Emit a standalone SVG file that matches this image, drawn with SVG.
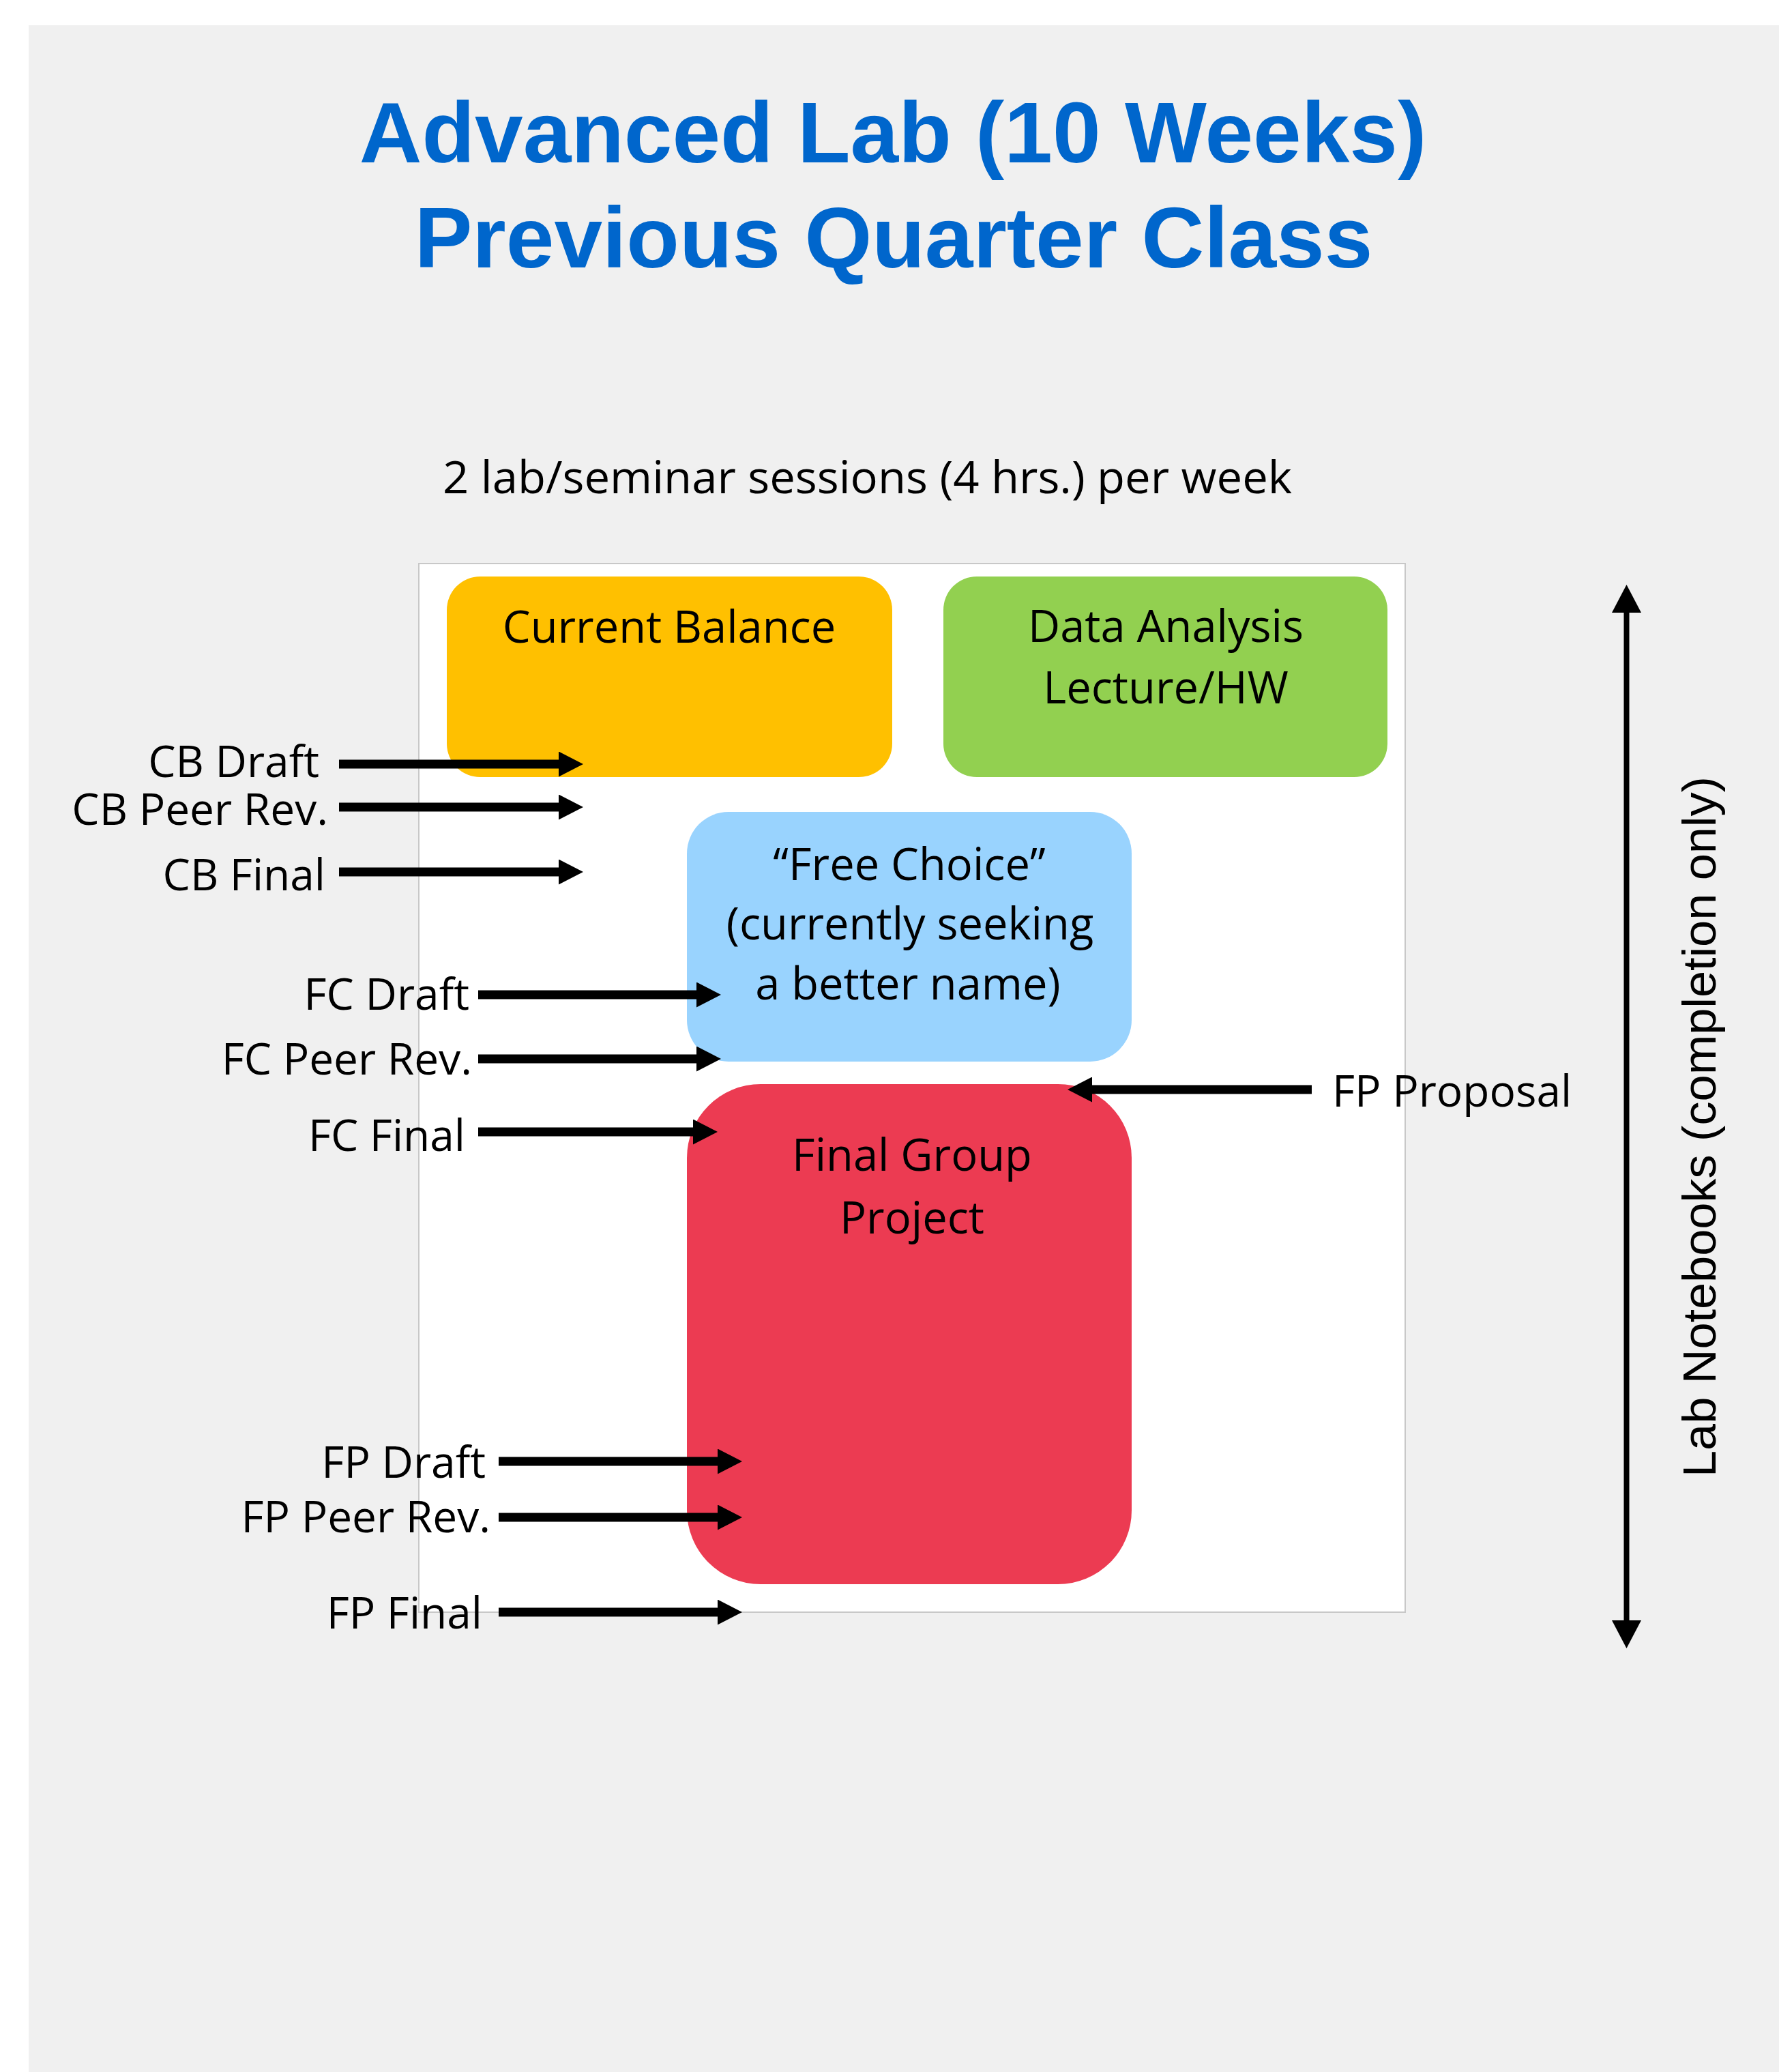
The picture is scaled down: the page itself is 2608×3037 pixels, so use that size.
<svg xmlns="http://www.w3.org/2000/svg" width="2608" height="3037" viewBox="0 0 2608 3037">
<style>
.title{font-family:"Liberation Sans",Arial,sans-serif;font-weight:bold;font-size:127px;fill:#0066CC;text-anchor:middle}
.body{font-family:"Open Sans","Noto Sans",sans-serif;font-size:65px;fill:#000}
.mid{text-anchor:middle}
.lbl{font-family:"Open Sans","Noto Sans",sans-serif;font-size:64px;fill:#000;text-anchor:end}
.conn{stroke:#000;stroke-width:13;fill:none}
</style>
<defs>
<marker id="ah" markerUnits="userSpaceOnUse" markerWidth="36" markerHeight="37" viewBox="0 0 36 37" refX="0" refY="18.5" orient="auto">
<path d="M0,0 L36,18.5 L0,37 Z" fill="#000"/>
</marker>
<marker id="vh" markerUnits="userSpaceOnUse" markerWidth="41" markerHeight="43" viewBox="0 0 41 43" refX="0" refY="21.5" orient="auto-start-reverse">
<path d="M0,0 L41,21.5 L0,43 Z" fill="#000"/>
</marker>
</defs>
<rect x="0" y="0" width="2608" height="3037" fill="#FFFFFF"/>
<rect x="42" y="37" width="2566" height="3000" fill="#F0F0F0"/>
<g id="title">
<text class="title" x="1309" y="238">Advanced Lab (10 Weeks)</text>
<text class="title" x="1310" y="392">Previous Quarter Class</text>
</g>
<text class="body" x="649" y="723" font-size="68" textLength="1245" lengthAdjust="spacingAndGlyphs">2 lab/seminar sessions (4 hrs.) per week</text>
<rect id="panel" x="614" y="826" width="1446" height="1537" fill="#FFFFFF" stroke="#C8C8C8" stroke-width="2"/>
<g id="current-balance">
<rect x="655" y="845" width="653" height="294" rx="49" ry="49" fill="#FFC000"/>
<text class="body mid" x="981" y="942">Current Balance</text>
</g>
<g id="data-analysis">
<rect x="1383" y="845" width="651" height="294" rx="49" ry="49" fill="#92D050"/>
<text class="body mid" x="1709" y="941">Data Analysis</text>
<text class="body mid" x="1709" y="1031">Lecture/HW</text>
</g>
<g id="free-choice">
<rect x="1007" y="1190" width="652" height="366" rx="61" ry="61" fill="#99D3FE"/>
<text class="body mid" x="1333" y="1290">“Free Choice”</text>
<text class="body mid" x="1334" y="1377">(currently seeking</text>
<text class="body mid" x="1331" y="1465">a better name)</text>
</g>
<g id="final-project">
<rect x="1007" y="1589" width="652" height="733" rx="108" ry="108" fill="#EC3B52"/>
<text class="body mid" x="1337" y="1716">Final Group</text>
<text class="body mid" x="1337" y="1808">Project</text>
</g>
<g id="connectors">
<line class="conn" x1="497" y1="1120" x2="819" y2="1120" marker-end="url(#ah)"/>
<line class="conn" x1="497" y1="1183" x2="819" y2="1183" marker-end="url(#ah)"/>
<line class="conn" x1="497" y1="1278" x2="819" y2="1278" marker-end="url(#ah)"/>
<line class="conn" x1="701" y1="1458" x2="1021" y2="1458" marker-end="url(#ah)"/>
<line class="conn" x1="701" y1="1552" x2="1021" y2="1552" marker-end="url(#ah)"/>
<line class="conn" x1="701" y1="1659" x2="1016" y2="1659" marker-end="url(#ah)"/>
<line class="conn" x1="731" y1="2142" x2="1052" y2="2142" marker-end="url(#ah)"/>
<line class="conn" x1="731" y1="2224" x2="1052" y2="2224" marker-end="url(#ah)"/>
<line class="conn" x1="731" y1="2363" x2="1052" y2="2363" marker-end="url(#ah)"/>
<line class="conn" x1="1923" y1="1597" x2="1601" y2="1597" marker-end="url(#ah)"/>
<line x1="2384.5" y1="898" x2="2384.5" y2="2375" stroke="#000" stroke-width="8" marker-start="url(#vh)" marker-end="url(#vh)"/>
</g>
<g id="labels">
<text class="lbl" x="468" y="1139">CB Draft</text>
<text class="lbl" x="481" y="1209">CB Peer Rev.</text>
<text class="lbl" x="477" y="1305">CB Final</text>
<text class="lbl" x="688" y="1480">FC Draft</text>
<text class="lbl" x="692" y="1575">FC Peer Rev.</text>
<text class="lbl" x="682" y="1687">FC Final</text>
<text class="lbl" x="712" y="2166">FP Draft</text>
<text class="lbl" x="719" y="2246">FP Peer Rev.</text>
<text class="lbl" x="707" y="2387">FP Final</text>
<text class="lbl" x="1953" y="1622" style="text-anchor:start">FP Proposal</text>
<text x="0" y="0" transform="translate(2515,1651.5) rotate(-90)" font-family="'Liberation Sans',Arial,sans-serif" font-size="68" text-anchor="middle" textLength="1027" lengthAdjust="spacingAndGlyphs">Lab Notebooks (completion only)</text>
</g>
</svg>
